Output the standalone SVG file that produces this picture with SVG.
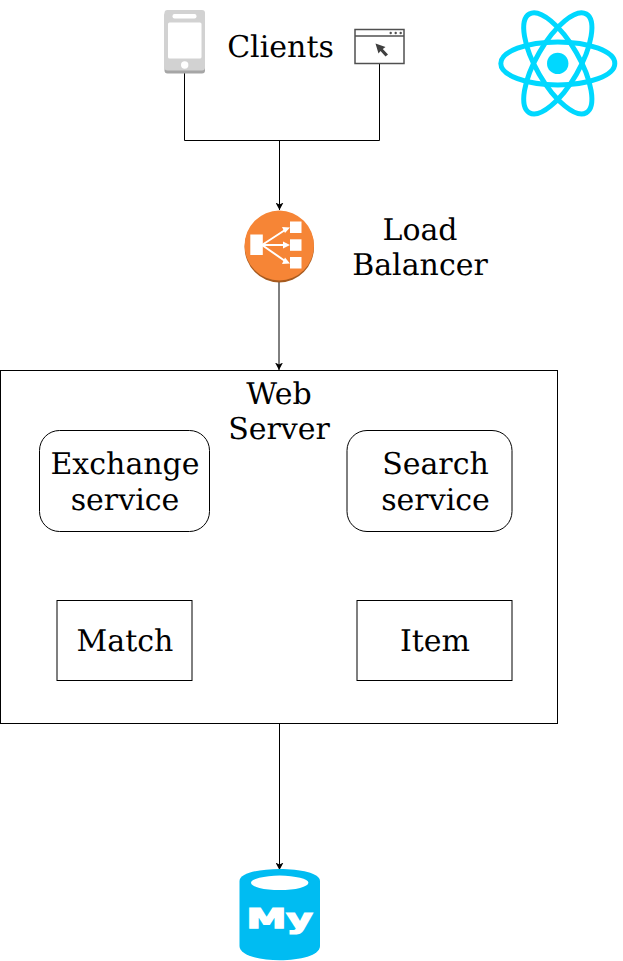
<svg xmlns="http://www.w3.org/2000/svg" width="623" height="961" viewBox="0 0 623 961">
<style>
text{font-family:"DejaVu Serif",serif;font-size:30px;fill:#000;text-anchor:middle;text-rendering:geometricPrecision}
.b{fill:#fff;stroke:#000;stroke-width:1}
.c{fill:none;stroke:#000;stroke-width:1}
.r{fill:none;stroke:#00d8ff;stroke-width:5}
</style>
<defs>
<marker id="a" markerUnits="userSpaceOnUse" markerWidth="8" markerHeight="8" refX="7.500" refY="4" orient="auto"><path d="M0 0L7.500 4L0 8L2 4Z" fill="#000"/></marker>
</defs>
<rect width="623" height="961" fill="#fff"/>
<g id="connectors">
<path class="c" d="M184.500 73V140.500H379.500V64"/>
<path class="c" d="M279.500 140.500V210" marker-end="url(#a)"/>
<path class="c" d="M279 282V370" marker-end="url(#a)"/>
<path class="c" d="M279.500 723V870" marker-end="url(#a)"/>
</g>
<g id="phone">
<rect x="164.500" y="12" width="40.500" height="61.500" rx="3" fill="#a6a6a6"/>
<rect x="164.500" y="10" width="40.500" height="60.500" rx="3" fill="#d2d2d2"/>
<rect x="168" y="22.500" width="33.500" height="36" rx="1.500" fill="#fff"/>
<rect x="172.500" y="14" width="24" height="4.500" rx="2" fill="#fff"/>
<circle cx="184.700" cy="65" r="3.700" fill="#fff"/>
</g>
<g id="clients-label"><text x="280.500" y="57">Clients</text></g>
<g id="browser">
<rect x="355" y="29.500" width="49" height="34" fill="#fff" stroke="#505050" stroke-width="1.500"/>
<path d="M355 36H404" stroke="#505050" stroke-width="1.500"/>
<circle cx="390.700" cy="33" r="1.200" fill="#505050"/><circle cx="395.700" cy="33" r="1.200" fill="#505050"/><circle cx="400.700" cy="33" r="1.200" fill="#505050"/>
<path d="M375.500 43.500L385.500 47L382.800 49L388 54.500L385.500 56.500L380.500 51L378.500 53.500Z" fill="#404040"/>
</g>
<g id="react">
<circle cx="557.700" cy="63.400" r="10.700" fill="#00d8ff"/>
<ellipse class="r" cx="557.800" cy="63.400" rx="57" ry="21.500"/>
<ellipse class="r" cx="557.800" cy="63.400" rx="57" ry="21.500" transform="rotate(60 557.800 63.400)"/>
<ellipse class="r" cx="557.800" cy="63.400" rx="57" ry="21.500" transform="rotate(120 557.800 63.400)"/>
</g>
<g id="load-balancer">
<ellipse cx="279.300" cy="247" rx="34.700" ry="35.500" fill="#a65a1f"/>
<ellipse cx="279.300" cy="245.500" rx="34.700" ry="35" fill="#f68536"/>
<rect x="250.300" y="234.500" width="12.500" height="20.500" fill="#fff"/>
<rect x="290" y="221.500" width="11.500" height="11.500" fill="#fff"/>
<rect x="290" y="239.300" width="11.500" height="11.500" fill="#fff"/>
<rect x="290" y="257" width="11.500" height="11.500" fill="#fff"/>
<path d="M262 245L285 230M262 245H285M262 245L285 261" stroke="#fff" stroke-width="2" fill="none"/>
<path d="M290 227.500L282 227L285 233ZM290 245L283 241.500V248.500ZM290 263.500L285 257.500L282 264Z" fill="#fff"/>
</g>
<g id="lb-label"><text x="420" y="240">Load</text><text x="420" y="275">Balancer</text></g>
<g id="web-server">
<rect class="b" x="0.500" y="370.500" width="557" height="353"/>
<text x="279" y="404">Web</text><text x="279" y="439">Server</text>
</g>
<g id="exchange-service">
<rect class="b" x="39.500" y="430.500" width="170" height="101" rx="20"/>
<text x="125" y="474">Exchange</text><text x="125" y="510">service</text>
</g>
<g id="search-service">
<rect class="b" x="347" y="430.500" width="165" height="101" rx="20"/>
<text x="435.500" y="474">Search</text><text x="435.500" y="510">service</text>
</g>
<g id="match">
<rect class="b" x="57" y="600.500" width="135" height="80"/>
<text x="125" y="651">Match</text>
</g>
<g id="item">
<rect class="b" x="357" y="600.500" width="155" height="80"/>
<text x="435" y="651">Item</text>
</g>
<g id="mysql">
<path d="M239.500 881C239.500 865 320 865 320 881V946C320 965 239.500 965 239.500 946Z" fill="#00bcf2"/>
<ellipse cx="279.700" cy="882.800" rx="28.700" ry="7.200" fill="#fff"/>
<text x="279.500" y="928" style="font-family:'DejaVu Sans',sans-serif;font-weight:bold;font-size:27px;fill:#fff;stroke:#fff;stroke-width:1.500" textLength="66" lengthAdjust="spacingAndGlyphs">My</text>
</g>
</svg>
